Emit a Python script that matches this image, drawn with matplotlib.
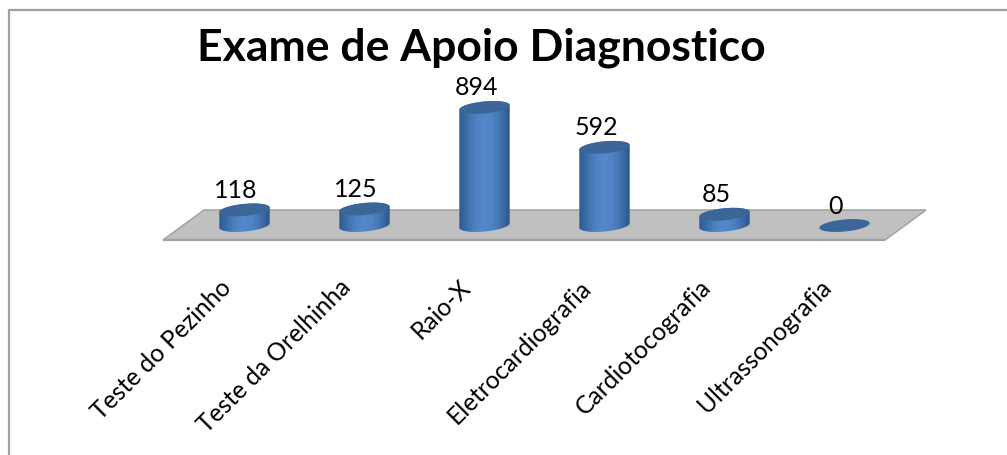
import numpy as np
import matplotlib
matplotlib.use("Agg")
import matplotlib.pyplot as plt
from matplotlib.colors import LinearSegmentedColormap
from matplotlib.patches import Polygon
from matplotlib.transforms import ScaledTranslation

plt.rcParams['font.family'] = ['Lato', 'DejaVu Sans']

categories = ["Teste do Pezinho", "Teste da Orelhinha", "Raio-X",
              "Eletrocardiografia", "Cardiotocografia", "Ultrassonografia"]
values = [118, 125, 894, 592, 85, 0]
title = "Exame de Apoio Diagnostico"

W, H = 1007, 455
PX_PER_CAT = 120.0
PX_PER_VAL = 0.132
X0_PX = 244.5
BASE_PX = 225.5
AX_BOTTOM_PX = 241.0

fig = plt.figure(figsize=(W / 100, H / 100), dpi=100, facecolor="white")

# pixel-space background: frame and floor
bg = fig.add_axes([0, 0, 1, 1], zorder=0)
bg.set_xlim(0, W)
bg.set_ylim(H, 0)
bg.axis("off")
bg.plot([8.5, 8.5, W], [H, 9.5, 9.5], color="#a0a0a0", lw=1.6)
bg.add_patch(Polygon([(163, 240), (204, 210), (926, 210), (885, 240)], closed=True,
                     facecolor="#c0c0c0", edgecolor="#a6a6a6", lw=1.2))
bg.plot([163, 885], [240.3, 240.3], color="#a2a2a2", lw=1.6, solid_capstyle="butt")

# data axes: category x, value y
ax = fig.add_axes([0, 1 - AX_BOTTOM_PX / H, 1, AX_BOTTOM_PX / H], zorder=1)
ax.patch.set_alpha(0)
for s in ax.spines.values():
    s.set_visible(False)
ax.set_yticks([])

grad = LinearSegmentedColormap.from_list(
    "cyl", ["#2e5a90", "#3f70ab", "#4f82c2", "#5489ca", "#4f82c2", "#3f70ab", "#2b568b"])
g_img = np.linspace(0, 1, 128).reshape(1, -1)

A, B, TH = 25.3, 6.0, np.deg2rad(5.5)
T0 = np.arctan2(-B * np.sin(TH), A * np.cos(TH))


def arc(cx, cy_val, t):
    dx = A * np.cos(t) * np.cos(TH) - B * np.sin(t) * np.sin(TH)
    dy = A * np.cos(t) * np.sin(TH) + B * np.sin(t) * np.cos(TH)
    return np.column_stack([cx + dx / PX_PER_CAT, cy_val + dy / PX_PER_VAL])


half_w = (A * np.cos(TH) * np.cos(T0) - B * np.sin(T0) * np.sin(TH)) / PX_PER_CAT
for i, v in enumerate(values):
    top_arc = arc(i, v, np.linspace(T0, T0 + np.pi, 60))
    low_arc = arc(i, 0, np.linspace(T0 + np.pi, T0 + 2 * np.pi, 60))
    outline = Polygon(np.vstack([top_arc, low_arc]), closed=True,
                      transform=ax.transData, facecolor="none", edgecolor="none")
    ax.add_patch(outline)
    if v > 0:
        im = ax.imshow(g_img, cmap=grad, aspect="auto", zorder=2,
                       extent=(i - half_w, i + half_w, -100, v + 100))
        im.set_clip_path(outline)
    cap = arc(i, v, np.linspace(0, 2 * np.pi, 120))
    ax.add_patch(Polygon(cap, closed=True, facecolor="#3c6698", edgecolor="none", zorder=3))
    ax.annotate(str(v), (i, v), xytext=(-8.5 * 0.72, 19.5 * 0.72), textcoords="offset points",
                ha="center", va="center", fontsize=18, color="black", zorder=4)

ax.set_xlim(-X0_PX / PX_PER_CAT, (W - X0_PX) / PX_PER_CAT)
ax.set_ylim(-(AX_BOTTOM_PX - BASE_PX) / PX_PER_VAL, BASE_PX / PX_PER_VAL)
ax.set_xticks(range(len(categories)))
ax.set_xticklabels(categories, rotation=45, ha="right", rotation_mode="anchor",
                   fontsize=17.7, color="black")
ax.tick_params(axis="x", length=0, pad=25)
offset = ScaledTranslation(-25.5 / 100, 0, fig.dpi_scale_trans)
for lab in ax.get_xticklabels():
    lab.set_transform(lab.get_transform() + offset)

fig.text(481.5 / W, 1 - 48 / H, title, fontsize=32, fontweight="bold",
         ha="center", va="center", color="black")

fig.savefig("out.png", dpi=100)
